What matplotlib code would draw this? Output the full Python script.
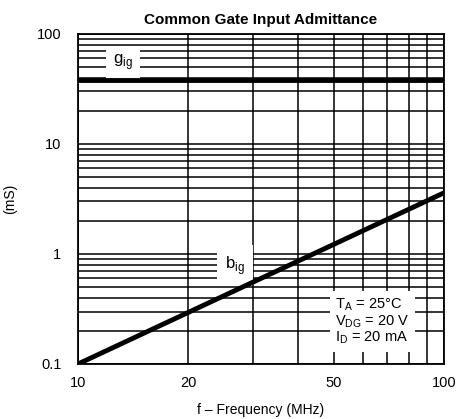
import numpy as np
import matplotlib.pyplot as plt
from matplotlib.ticker import FixedLocator, NullFormatter, LogLocator

plt.rcParams['font.family'] = ['Liberation Sans', 'DejaVu Sans']

freq = [10, 100]          # MHz
g_ig = [38, 38]           # mS
b_ig = [0.1, 3.6]         # mS

x_ticks = [10, 20, 50, 100]
x_labels = ['10', '20', '50', '100']
y_ticks = [0.1, 1, 10, 100]
y_labels = ['0.1', '1', '10', '100']

fig = plt.figure(figsize=(4.6, 4.19), dpi=100)
ax = fig.add_axes([0.1696, 0.1313, 0.7957, 0.7876])

ax.set_xscale('log')
ax.set_yscale('log')
ax.set_xlim(10, 100)
ax.set_ylim(0.1, 100)

ax.plot(freq, g_ig, color='black', lw=3.5, solid_capstyle='butt', zorder=5)
ax.plot(freq, b_ig, color='black', lw=3.5, solid_capstyle='butt', zorder=5)

ax.xaxis.set_major_locator(FixedLocator(x_ticks))
ax.set_xticklabels(x_labels)
ax.xaxis.set_minor_locator(LogLocator(base=10, subs=np.arange(1, 10)))
ax.xaxis.set_minor_formatter(NullFormatter())
ax.yaxis.set_major_locator(FixedLocator(y_ticks))
ax.set_yticklabels(y_labels)
ax.yaxis.set_minor_locator(LogLocator(base=10, subs=np.arange(1, 10)))
ax.yaxis.set_minor_formatter(NullFormatter())

ax.grid(True, which='both', color='black', lw=1.1)
ax.tick_params(which='both', length=0, labelsize=10.5)
ax.tick_params(axis='x', pad=9)
ax.tick_params(axis='y', pad=12)
for s in ax.spines.values():
    s.set_linewidth(1.3)

ax.text(13.3, 55, r'g$_{\mathregular{ig}}$', fontsize=12, ha='center', va='center',
        bbox=dict(facecolor='white', edgecolor='none', pad=5), zorder=4)
ax.text(26.8, 0.79, r'b$_{\mathregular{ig}}$', fontsize=12, ha='center', va='center',
        bbox=dict(facecolor='white', edgecolor='none', pad=6), zorder=4)
ax.text(50.5, 0.245,
        'T$_{\\mathregular{A}}$ = 25°C\nV$_{\\mathregular{DG}}$ = 20 V\nI$_{\\mathregular{D}}$ = 20 mA',
        fontsize=10.5, ha='left', va='center', linespacing=1.0,
        bbox=dict(facecolor='white', edgecolor='none', pad=4), zorder=4)

ax.set_title('Common Gate Input Admittance', fontsize=11, fontweight='bold', pad=7)
ax.set_xlabel('f – Frequency (MHz)', fontsize=10, labelpad=9)
ax.set_ylabel('(mS)', fontsize=10, labelpad=14)

fig.savefig('out.png', dpi=100)
